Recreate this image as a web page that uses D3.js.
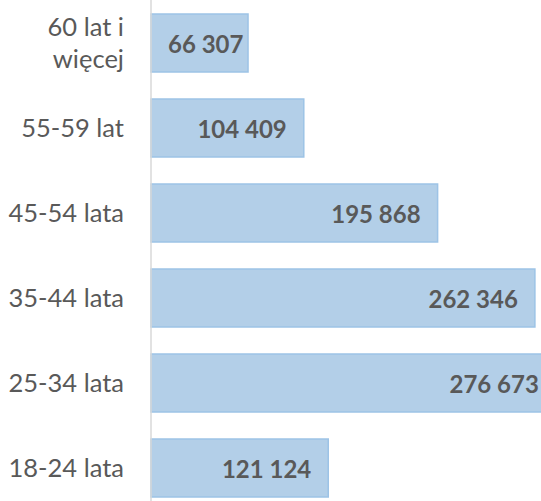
<!DOCTYPE html>
<html><head><meta charset="utf-8">
<script src="https://cdn.jsdelivr.net/npm/d3@7"></script>
<style>html,body{margin:0;padding:0;background:#fff;overflow:hidden}</style>
</head><body>
<svg id="c" width="541" height="501"></svg>
<script>
const categories = ["60 lat i\nwięcej", "55-59 lat", "45-54 lata", "35-44 lata", "25-34 lata", "18-24 lata"];
const values = [66307, 104409, 195868, 262346, 276673, 121124];
const labels = ["66 307", "104 409", "195 868", "262 346", "276 673", "121 124"];

const svg = d3.select("#c");
const font = "Lato, 'Open Sans', sans-serif";
const x = d3.scaleLinear().domain([0, 300000]).range([151, 590]);
const y = d3.scaleBand().domain(categories).range([0.5, 510.5]).paddingInner(27/85).paddingOuter(27/170);

const data = categories.map((c, i) => ({c, v: values[i], l: labels[i]}));

svg.selectAll("rect.bar").data(data).enter().append("rect")
  .attr("class", "bar")
  .attr("x", x(0))
  .attr("y", d => y(d.c))
  .attr("width", d => x(d.v) - x(0))
  .attr("height", y.bandwidth())
  .attr("fill", "#b3cfe8")
  .attr("stroke", "#9dc3e6")
  .attr("stroke-width", 1.5);

svg.append("line")
  .attr("x1", x(0)).attr("x2", x(0))
  .attr("y1", 0).attr("y2", 501)
  .attr("stroke", "#d9d9d9").attr("stroke-width", 1.5);

// category labels
data.forEach(d => {
  const lines = d.c.split("\n");
  const cy = y(d.c) + y.bandwidth() / 2;
  const lh = 32.4;
  const t = svg.append("text")
    .attr("text-anchor", "end")
    .attr("font-family", font)
    .attr("font-size", 25.5)
    .attr("fill", "#595959");
  lines.forEach((ln, i) => {
    t.append("tspan")
      .attr("x", 124)
      .attr("y", cy + 8.9 + (i - (lines.length - 1) / 2) * lh)
      .text(ln);
  });
});

// value labels
data.forEach(d => {
  const cy = y(d.c) + y.bandwidth() / 2;
  const t = svg.append("text")
    .attr("text-anchor", "end")
    .attr("font-family", font)
    .attr("font-weight", "bold")
    .attr("font-size", 24)
    .attr("fill", "#595959")
    .attr("y", cy + 10.4)
    .text(d.l);
  const w = t.node().getComputedTextLength();
  t.attr("x", Math.max(x(d.v) - 17, x(0) + 17 + w));
});
</script>
</body></html>
